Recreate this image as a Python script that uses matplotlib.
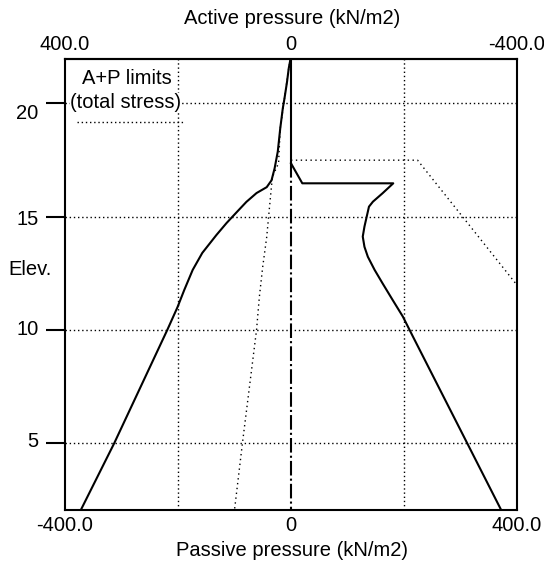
#!/usr/bin/env python3
# Pressure limits vs elevation (active on top axis, passive on bottom axis)

import matplotlib
matplotlib.use("Agg")
import matplotlib.pyplot as plt

plt.rcParams["font.family"] = ["Liberation Sans", "DejaVu Sans"]
FS = 14.5

# --- data (kN/m2 vs elevation m) ---
left_x = [-1, -4, -7, -11.5, -14.5, -19, -23.4, -29, -34.5, -43, -61, -79,
          -96, -114, -132, -157, -174, -189, -201, -219, -313, -372]
left_y = [21.94, 21.54, 20.95, 20.22, 19.78, 18.9, 17.87, 17.13, 16.6, 16.3,
          16.04, 15.65, 15.2, 14.72, 14.19, 13.4, 12.65, 11.76, 11.0, 10.0,
          5.0, 2.06]

right_x = [0, 20, 181, 162, 145, 138, 134, 130, 127, 130, 136, 148, 162,
           180, 198, 216, 312, 372]
right_y = [17.35, 16.47, 16.47, 16.03, 15.66, 15.44, 15.0, 14.56, 14.12,
           13.67, 13.23, 12.65, 12.06, 11.32, 10.59, 9.7, 5.0, 2.06]

# A+P limits (total stress)
limit_left_x = [-1, -4, -11.5, -19, -22, -33, -38, -43, -50, -56, -61, -86, -100]
limit_left_y = [21.94, 21.54, 20.22, 18.9, 17.36, 16.75, 15.43, 14.1, 12.8,
                11.46, 10.0, 5.0, 2.06]
limit_right_x = [0, 224, 400]
limit_right_y = [17.49, 17.49, 11.98]

wall_top, wall_split, wall_bottom = 21.94, 17.35, 2.06

y_ticks = [20, 15, 10, 5]
x_ticks = [-400, 0, 400]
bottom_labels = ["-400.0", "0", "400.0"]
top_labels = ["400.0", "0", "-400.0"]

fig = plt.figure(figsize=(5.44, 5.68), dpi=100)
ax = fig.add_axes([65 / 544, 1 - 510 / 568, 452 / 544, 450.7 / 568])
ax.set_xlim(-400, 400)
ax.set_ylim(wall_bottom, wall_top)

grid_dot = (0, (1, 2))
dot = (0, (1, 2.5))
for gx in (-200, 200):
    ax.axvline(gx, color="black", lw=1.0, ls=grid_dot, zorder=1)
for gy in y_ticks:
    ax.axhline(gy, color="black", lw=1.0, ls=grid_dot, zorder=1)

ax.plot(limit_left_x, limit_left_y, color="black", lw=1.0, ls=dot, zorder=2)
ax.plot(limit_right_x, limit_right_y, color="black", lw=1.0, ls=dot, zorder=2)
ax.plot(left_x, left_y, color="black", lw=1.5, zorder=3)
ax.plot(right_x, right_y, color="black", lw=1.5, zorder=3)

# wall line
ax.plot([0, 0], [wall_top, wall_split], color="black", lw=1.5, zorder=3)
ax.plot([0, 0], [wall_split, wall_bottom], color="black", lw=1.5,
        ls=(0, (7, 1.5, 1, 1.5)), zorder=3)

for s in ax.spines.values():
    s.set_linewidth(1.5)

# y ticks drawn, labels placed by hand (they sit a little off the ticks)
ax.set_yticks(y_ticks, labels=[""] * len(y_ticks))
ax.tick_params(axis="y", direction="out", length=14, width=1.5)
label_shift = [-10, -3, 0, 2]
for yv, dy in zip(y_ticks, label_shift):
    ax.annotate(str(yv), xy=(0, yv), xycoords=("axes fraction", "data"),
                xytext=(-19, dy * 0.72), textcoords="offset points",
                ha="right", va="center", fontsize=FS)

ax.set_xticks(x_ticks, labels=bottom_labels, fontsize=FS)
ax.tick_params(axis="x", length=0, pad=4)

top = ax.secondary_xaxis("top", functions=(lambda v: -v, lambda v: -v))
top.set_xticks(x_ticks, labels=top_labels[::-1], fontsize=FS)
top.tick_params(length=0, pad=4)
top.spines["top"].set_linewidth(1.5)

fig.text(292 / 544, 1 - 18 / 568, "Active pressure (kN/m2)",
         ha="center", va="center", fontsize=FS)
fig.text(292 / 544, 1 - 550 / 568, "Passive pressure (kN/m2)",
         ha="center", va="center", fontsize=FS)
fig.text(30 / 544, 1 - 270 / 568, "Elev.", ha="center", va="center", fontsize=FS)

# legend block
box = dict(facecolor="white", edgecolor="none", pad=0)
ax.text(0.137, 0.958, "A+P limits", transform=ax.transAxes, ha="center",
        va="center", fontsize=FS, bbox=box, zorder=4)
ax.text(0.133, 0.9036, "(total stress)", transform=ax.transAxes, ha="center",
        va="center", fontsize=FS, bbox=box, zorder=4)
ax.plot([0.0265, 0.261], [0.861, 0.861], transform=ax.transAxes,
        color="black", lw=1.0, ls=grid_dot, zorder=4)

fig.savefig("out.png", dpi=100)
